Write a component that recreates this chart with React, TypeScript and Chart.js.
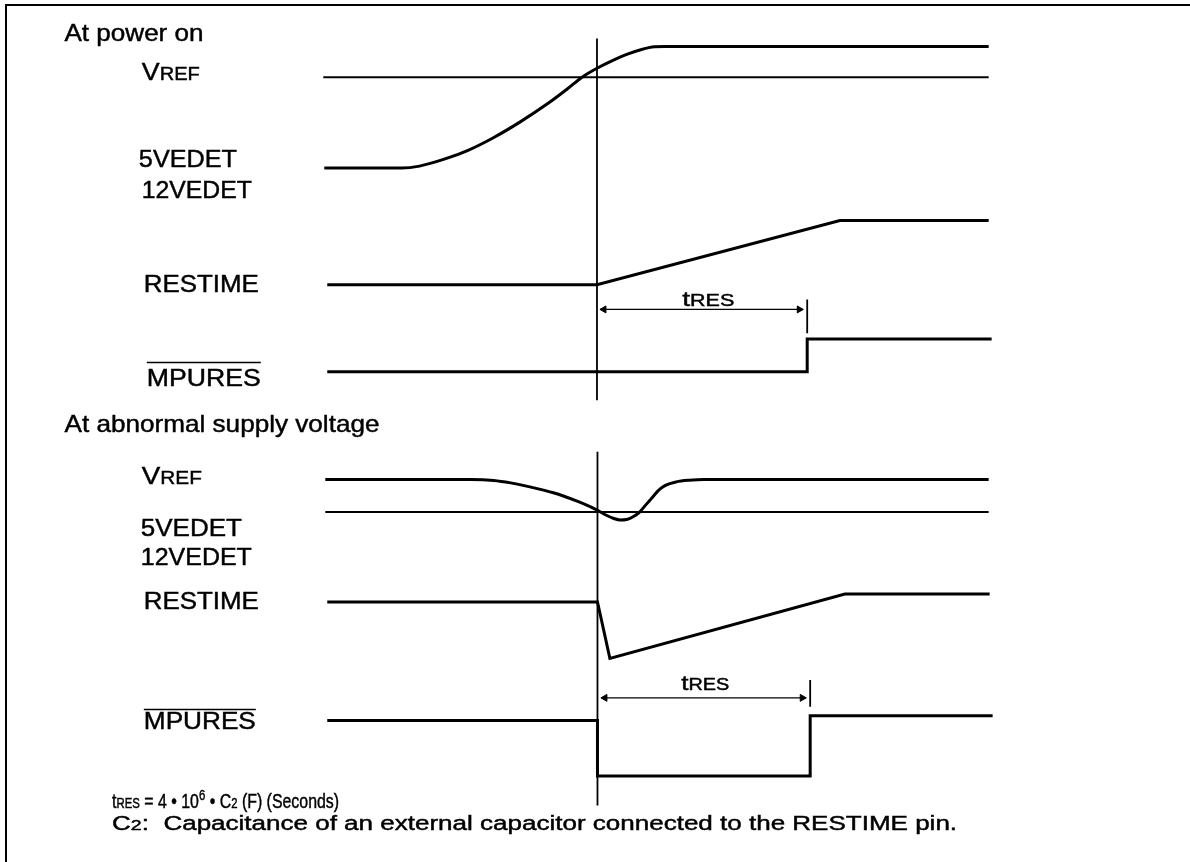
import React, { useEffect, useRef } from "react";
import { Chart, registerables } from "chart.js";

Chart.register(...registerables);

const W = 1190;
const H = 862;
const FONT = '"Liberation Sans", Arial, Helvetica, sans-serif';

// Time axis: t = 0 at the event line (power-on threshold / abnormal drop)
const T_MIN = -59.7;
const T_MAX = 59.3;
// Vertical axis: diagram rows, top to bottom
const Y_MIN = 0;
const Y_MAX = 862;

// ---------- At power on ----------
const pwrThreshT = [-27.6, 39.5];
const pwrThreshY = [73, 73];

const pwrDetT = [-27.5, -19.7, -17.9, -15.4, -13.0, -10.4, -7.7, -5.0, -3.0, -1.5, 0, 1.5, 3.0, 4.5, 5.8, 6.8, 39.5];
const pwrDetY = [165, 165, 163, 156, 147, 134, 118, 100, 85, 73, 64, 56.5, 50, 45, 42.3, 42, 42];

const pwrEventT = [0, 0];
const pwrEventY = [34, 400];

const pwrRestimeT = [-27.2, 0, 24.5, 39.5];
const pwrRestimeY = [283, 283, 218, 218];

const pwrArrowT = [0.3, 20.8];
const pwrArrowY = [308, 308];
const pwrArrowTipsT = [0.7, 20.4];
const pwrTickT = [21.2, 21.2];
const pwrTickY = [298, 332];

const pwrMpuresT = [-27.2, 21.2, 21.2, 39.8];
const pwrMpuresY = [371, 371, 338, 338];

// ---------- At abnormal supply voltage ----------
const abnVrefT = [-27.4, -12.7, -10.4, -8.7, -7.0, -4.4, -2.0, -0.7, 0.1, 1.0, 1.7, 2.3, 3.0, 3.6, 4.3, 4.9, 5.6, 6.2, 6.9, 8.0, 9.3, 10.8, 39.5];
const abnVrefY = [480, 480, 481, 483.5, 487, 493.5, 502, 507.5, 511.5, 516.5, 519.5, 521, 520.5, 518, 513, 506, 498, 491, 486, 482.5, 480.8, 480, 480];

const abnThreshT = [-27.4, 39.5];
const abnThreshY = [513, 513];

const abnEventT = [0.05, 0.05];
const abnEventY = [452, 810];

const abnRestimeT = [-27.2, 0.05, 1.3, 25.0, 39.6];
const abnRestimeY = [604, 604, 661, 596, 596];

const abnArrowT = [0.4, 21.1];
const abnArrowY = [701, 701];
const abnArrowTipsT = [0.8, 20.7];
const abnTickT = [21.5, 21.5];
const abnTickY = [683, 710];

const abnMpuresT = [-27.2, 0.05, 0.05, 21.5, 21.5, 39.9];
const abnMpuresY = [724, 724, 780, 780, 719, 719];

// ---------- Text ----------
type Run = { text: string; size: number; rise?: number };
type Label = { t: number; y: number; w: number; runs: Run[]; over?: number; bold?: number };

const LABELS: Label[] = [
  { t: -53.7, y: 36, w: 139, runs: [{ text: "At power on", size: 24 }] },
  { t: -45.9, y: 76, w: 58, runs: [{ text: "V", size: 24 }, { text: "REF", size: 18 }] },
  { t: -46.2, y: 164, w: 98, runs: [{ text: "5VEDET", size: 24 }] },
  { t: -45.9, y: 195, w: 110, runs: [{ text: "12VEDET", size: 24 }] },
  { t: -45.7, y: 290, w: 115, runs: [{ text: "RESTIME", size: 24 }] },
  { t: -45.4, y: 385, w: 114, runs: [{ text: "MPURES", size: 24 }], over: 23 },
  { t: -53.7, y: 432, w: 315, runs: [{ text: "At abnormal supply voltage", size: 24 }] },
  { t: -45.9, y: 485, w: 60, runs: [{ text: "V", size: 24 }, { text: "REF", size: 18 }] },
  { t: -46.0, y: 537, w: 101, runs: [{ text: "5VEDET", size: 24 }] },
  { t: -46.0, y: 567, w: 111, runs: [{ text: "12VEDET", size: 24 }] },
  { t: -45.7, y: 611, w: 115, runs: [{ text: "RESTIME", size: 24 }] },
  { t: -45.7, y: 732, w: 112, runs: [{ text: "MPURES", size: 24 }], over: 19 },
  { t: 8.6, y: 305, w: 52, runs: [{ text: "t", size: 21 }, { text: "RES", size: 16 }] },
  { t: 8.5, y: 693, w: 48, runs: [{ text: "t", size: 21 }, { text: "RES", size: 16 }] },
  {
    t: -48.9,
    y: 812,
    w: 227,
    runs: [
      { text: "t", size: 21 },
      { text: "RES", size: 15 },
      { text: " = 4 \u2022 10", size: 21 },
      { text: "6", size: 15, rise: 8 },
      { text: " \u2022 C", size: 21 },
      { text: "2", size: 15 },
      { text: " (F) (Seconds)", size: 21 },
    ],
  },
  {
    t: -48.9,
    y: 835,
    w: 845,
    runs: [
      { text: "C", size: 20 },
      { text: "2", size: 15 },
      { text: ":  Capacitance of an external capacitor connected to the RESTIME pin.", size: 20 },
    ],
  },
];

const zip = (ts: number[], ys: number[]) => ts.map((t, i) => ({ x: t, y: ys[i] }));

const line = (ts: number[], ys: number[], width: number, smooth = false) => ({
  data: zip(ts, ys),
  borderColor: "#000",
  borderWidth: width,
  pointRadius: 0,
  fill: false,
  tension: 0,
  cubicInterpolationMode: smooth ? ("monotone" as const) : ("default" as const),
  borderCapStyle: "butt" as const,
  borderJoinStyle: "miter" as const,
});

const arrowHeads = (ts: number[], ys: number[]) => ({
  data: zip(ts, ys),
  showLine: false,
  pointStyle: "triangle" as const,
  pointRadius: 4,
  pointRotation: [270, 90],
  backgroundColor: "#000",
  borderColor: "#000",
  borderWidth: 1,
});

const textPlugin = {
  id: "diagramText",
  afterDatasetsDraw(chart: any) {
    const ctx: CanvasRenderingContext2D = chart.ctx;
    const xs = chart.scales.x;
    const ys = chart.scales.y;
    for (const lab of LABELS) {
      const x = xs.getPixelForValue(lab.t);
      const y = ys.getPixelForValue(lab.y);
      let nat = 0;
      for (const r of lab.runs) {
        ctx.font = `${r.size}px ${FONT}`;
        nat += ctx.measureText(r.text).width;
      }
      const sx = lab.w / nat;
      ctx.save();
      ctx.translate(x, y);
      ctx.scale(sx, 1);
      ctx.fillStyle = "#000";
      ctx.strokeStyle = "#000";
      ctx.lineWidth = 0.45;
      ctx.textAlign = "left";
      ctx.textBaseline = "alphabetic";
      let cx = 0;
      for (const r of lab.runs) {
        ctx.font = `${r.size}px ${FONT}`;
        ctx.fillText(r.text, cx, -(r.rise || 0));
        ctx.strokeText(r.text, cx, -(r.rise || 0));
        cx += ctx.measureText(r.text).width;
      }
      ctx.restore();
      if (lab.over) {
        ctx.save();
        ctx.strokeStyle = "#000";
        ctx.lineWidth = 1.5;
        ctx.beginPath();
        ctx.moveTo(x, y - lab.over);
        ctx.lineTo(x + lab.w, y - lab.over);
        ctx.stroke();
        ctx.restore();
      }
    }
  },
};

export default function App() {
  const ref = useRef<HTMLCanvasElement>(null);

  useEffect(() => {
    if (!ref.current) return;
    const chart = new Chart(ref.current, {
      type: "line",
      data: {
        datasets: [
          line(pwrThreshT, pwrThreshY, 2),
          line(pwrDetT, pwrDetY, 3, true),
          line(pwrEventT, pwrEventY, 1.8),
          line(pwrRestimeT, pwrRestimeY, 3),
          line(pwrArrowT, pwrArrowY, 1.2),
          arrowHeads(pwrArrowTipsT, pwrArrowY),
          line(pwrTickT, pwrTickY, 1.8),
          line(pwrMpuresT, pwrMpuresY, 3),
          line(abnVrefT, abnVrefY, 3, true),
          line(abnThreshT, abnThreshY, 2),
          line(abnEventT, abnEventY, 1.8),
          line(abnRestimeT, abnRestimeY, 3),
          line(abnArrowT, abnArrowY, 1.2),
          arrowHeads(abnArrowTipsT, abnArrowY),
          line(abnTickT, abnTickY, 1.8),
          line(abnMpuresT, abnMpuresY, 3),
        ] as any,
      },
      options: {
        responsive: false,
        maintainAspectRatio: false,
        devicePixelRatio: 1,
        animation: false,
        events: [],
        layout: { padding: 0 },
        plugins: {
          legend: { display: false },
          tooltip: { enabled: false },
          title: { display: false },
        },
        scales: {
          x: { type: "linear", min: T_MIN, max: T_MAX, display: false },
          y: { type: "linear", min: Y_MIN, max: Y_MAX, reverse: true, display: false },
        },
      },
      plugins: [textPlugin],
    });
    return () => chart.destroy();
  }, []);

  return (
    <div
      style={{
        position: "absolute",
        left: 0,
        top: 0,
        width: W,
        height: H,
        background: "#fff",
        overflow: "hidden",
      }}
    >
      <div
        style={{
          position: "absolute",
          left: 5,
          top: 4,
          right: 0,
          bottom: 0,
          borderTop: "2px solid #000",
          borderLeft: "2px solid #000",
        }}
      />
      <canvas
        ref={ref}
        width={W}
        height={H}
        style={{ position: "absolute", left: 0, top: 0, width: W, height: H }}
      />
    </div>
  );
}
